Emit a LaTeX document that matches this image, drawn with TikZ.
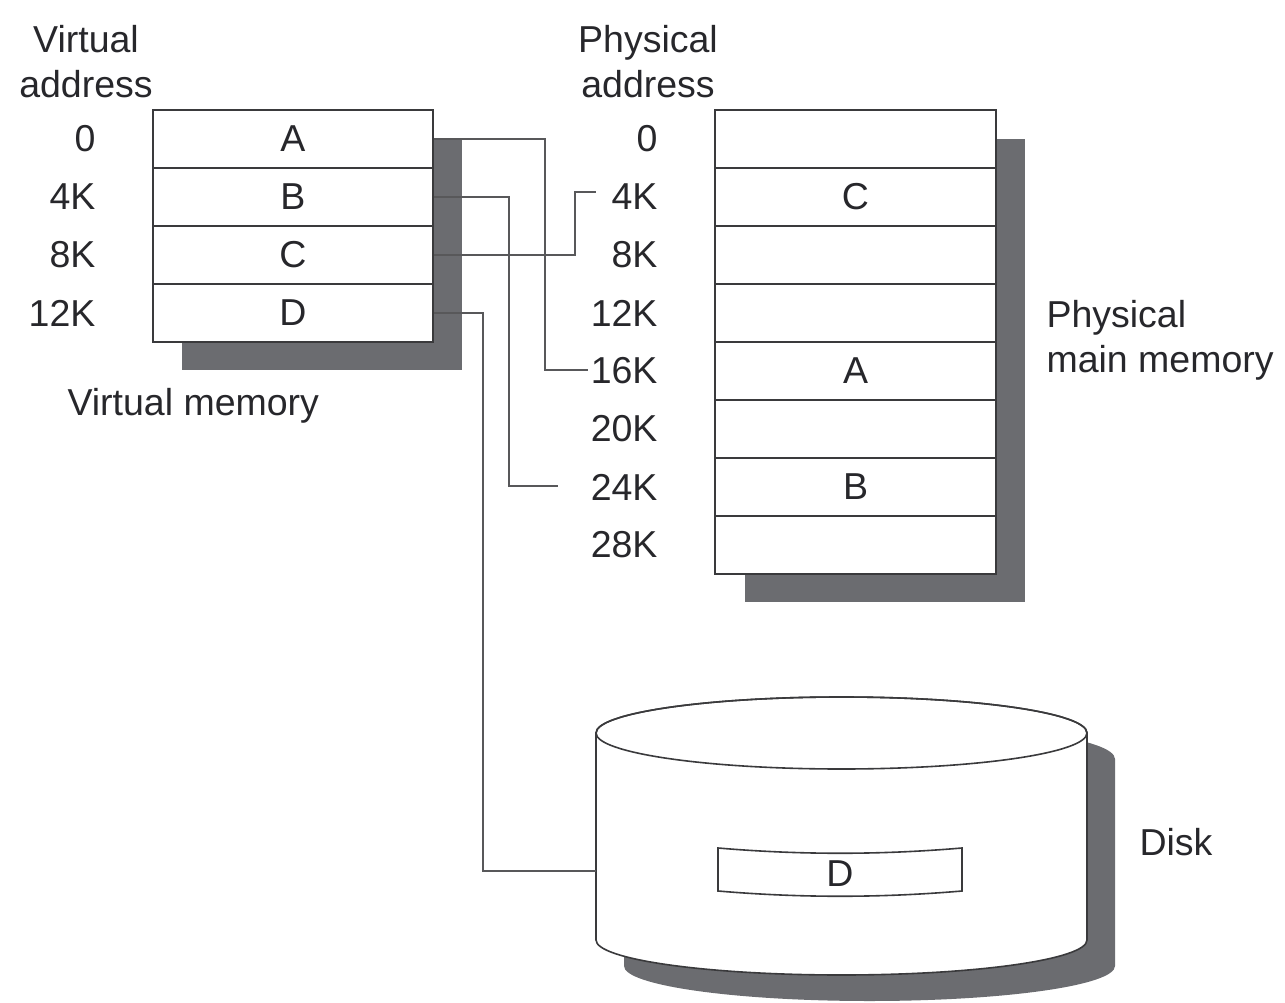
\documentclass[tikz,border=0pt]{standalone}
\usepackage{fontspec}
\setmainfont{Liberation Sans}
\definecolor{shadow}{HTML}{6B6C70}
\definecolor{wire}{HTML}{58585A}
\definecolor{edge}{HTML}{3A3A3C}
\definecolor{txt}{HTML}{27272B}

\begin{document}
\begin{tikzpicture}[x=1pt,y=-1pt,
	every node/.style={font=\fontsize{37.5}{45}\selectfont, text=txt},
	cell/.style={draw=edge, line width=1.6pt, fill=white, minimum width=280pt, minimum height=58pt, inner sep=0pt},
	link/.style={draw=wire, line width=2pt},
	shade/.style={fill=shadow}]
	\useasboundingbox (0,0) rectangle (1285,1003);

	% shadows
	\fill[shade] (182,139) rectangle (462,370);
	\fill[shade] (745,139) rectangle (1025,602);

	% virtual memory
	\node[cell] (vA) at (293,139) {A};
	\node[cell] (vB) at (293,197) {B};
	\node[cell] (vC) at (293,255) {C};
	\node[cell] (vD) at (293,313) {D};
	\node[anchor=east] (va0) at (99,139) {0};
	\node[anchor=east] (va4) at (99,197) {4K};
	\node[anchor=east] (va8) at (99,255) {8K};
	\node[anchor=east] (va12) at (99,313) {12K};
	\node[align=center] (vhead) at (86,62) {Virtual\\address};
	\node[anchor=west] (vname) at (64,406) {Virtual memory};

	% physical memory
	\node[cell, minimum width=281pt] (p0) at (855.5,139) {};
	\node[cell, minimum width=281pt] (p1) at (855.5,197) {C};
	\node[cell, minimum width=281pt] (p2) at (855.5,255) {};
	\node[cell, minimum width=281pt] (p3) at (855.5,313) {};
	\node[cell, minimum width=281pt] (p4) at (855.5,371) {A};
	\node[cell, minimum width=281pt] (p5) at (855.5,429) {};
	\node[cell, minimum width=281pt] (p6) at (855.5,487) {B};
	\node[cell, minimum width=281pt] (p7) at (855.5,545) {};
	\node[anchor=east] (pa0) at (661,139) {0};
	\node[anchor=east] (pa4) at (661,197) {4K};
	\node[anchor=east] (pa8) at (661,255) {8K};
	\node[anchor=east] (pa12) at (661,313) {12K};
	\node[anchor=east] (pa16) at (661,371) {16K};
	\node[anchor=east] (pa20) at (661,429) {20K};
	\node[anchor=east] (pa24) at (661,487) {24K};
	\node[anchor=east] (pa28) at (661,545) {28K};
	\node[align=center] (phead) at (648,62) {Physical\\address};
	\node[anchor=west, align=left] (pname) at (1043,340) {Physical\\main memory};

	% disk
	\begin{scope}[shift={(28,26)}]
		\fill[shade] (596,733) -- (596,940) arc[start angle=180, end angle=0, x radius=245.5, y radius=35]
			-- (1087,733) arc[start angle=0, end angle=-180, x radius=245.5, y radius=36] -- cycle;
	\end{scope}
	\filldraw[fill=white, draw=edge, line width=1.6pt] (596,733) -- (596,940) arc[start angle=180, end angle=0, x radius=245.5, y radius=35]
		-- (1087,733) arc[start angle=0, end angle=-180, x radius=245.5, y radius=36] -- cycle;
	\draw[draw=edge, line width=1.6pt] (841.5,733) ellipse [x radius=245.5, y radius=36];
	\draw[draw=edge, line width=1.6pt] (718,848) .. controls (800,855) and (880,855) .. (962,848)
		-- (962,891) .. controls (880,898) and (800,898) .. (718,891) -- cycle;
	\node (dslot) at (840,874) {D};
	\node[anchor=west] (dname) at (1136,842) {Disk};
	\coordinate (disk) at (596,871);

	% page table links
	\coordinate (tA) at (588,370);
	\coordinate (tB) at (558,486);
	\coordinate (tC) at (596,192);
	\draw[link] (vA.east) -- ++(111,0) |- (tA);
	\draw[link] (vB.east) -- ++(75,0) |- (tB);
	\draw[link] (vC.east) -- ++(141,0) |- (tC);
	\draw[link] (vD.east) -- ++(49,0) |- (disk);
\end{tikzpicture}
\end{document}
